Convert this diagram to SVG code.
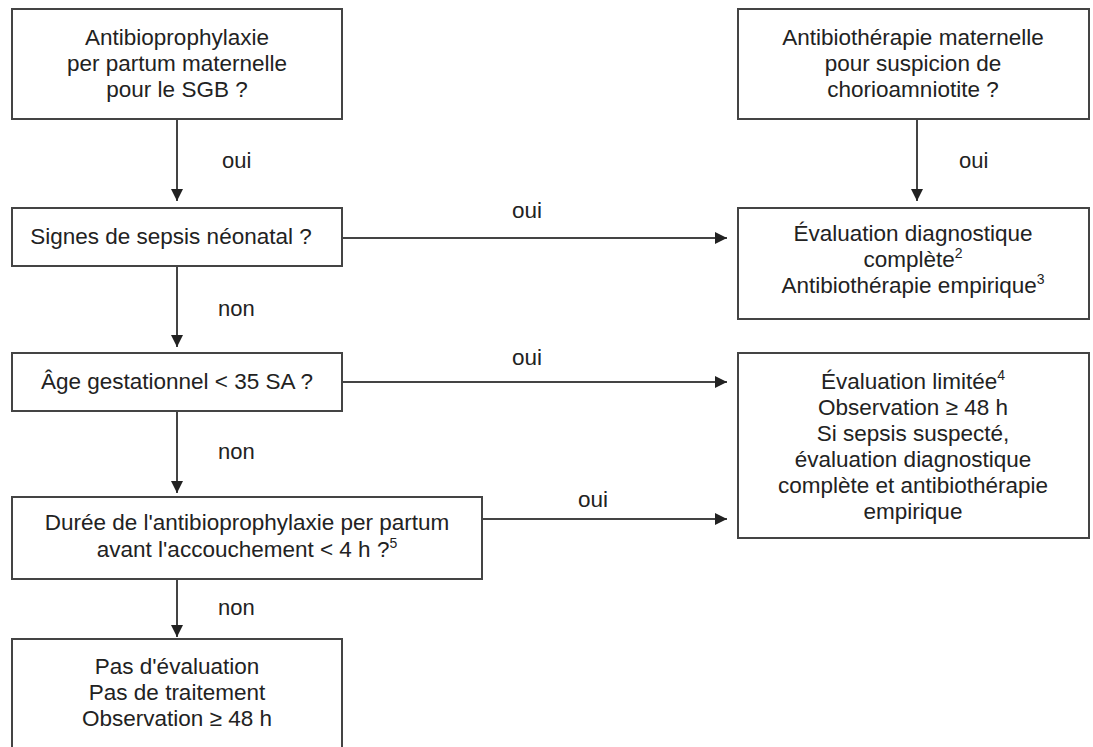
<svg xmlns="http://www.w3.org/2000/svg" width="1093" height="747" viewBox="0 0 1093 747">
<style>
.box{fill:#fff;stroke:#444;stroke-width:2}
.t{font-family:"Liberation Sans",Arial,sans-serif;font-size:22.5px;fill:#222;text-anchor:middle}
.l{font-family:"Liberation Sans",Arial,sans-serif;font-size:22px;fill:#222}
.sup{font-size:14px}
.c{stroke:#444;stroke-width:2;fill:none;marker-end:url(#ah)}
</style>
<defs>
<marker id="ah" viewBox="0 0 12 12" refX="12" refY="6" markerWidth="12" markerHeight="12" markerUnits="userSpaceOnUse" orient="auto">
<path d="M0,0 L12,6 L0,12 z" fill="#222"/>
</marker>
</defs>
<rect width="1093" height="747" fill="#fff"/>

<g id="connectors">
<line class="c" x1="177" y1="119" x2="177" y2="201"/>
<line class="c" x1="177" y1="266" x2="177" y2="347"/>
<line class="c" x1="177" y1="411" x2="177" y2="493"/>
<line class="c" x1="177" y1="579" x2="177" y2="637"/>
<line class="c" x1="917" y1="119" x2="917" y2="201"/>
<line class="c" x1="342" y1="238" x2="727" y2="238"/>
<line class="c" x1="342" y1="382" x2="727" y2="382"/>
<line class="c" x1="482" y1="519" x2="727" y2="519"/>
<text class="l" x="222" y="168">oui</text>
<text class="l" x="959" y="168">oui</text>
<text class="l" x="218" y="316">non</text>
<text class="l" x="218" y="459">non</text>
<text class="l" x="218" y="615">non</text>
<text class="t" x="527" y="218">oui</text>
<text class="t" x="527" y="365">oui</text>
<text class="t" x="593" y="507">oui</text>
</g>

<g id="n1">
<rect class="box" x="12" y="9" width="330" height="110"/>
<text class="t" x="177" y="45">Antibioprophylaxie</text>
<text class="t" x="177" y="71">per partum maternelle</text>
<text class="t" x="177" y="97">pour le SGB ?</text>
</g>

<g id="n2">
<rect class="box" x="12" y="208" width="330" height="58"/>
<text class="t" x="171" y="244">Signes de sepsis néonatal ?</text>
</g>

<g id="n3">
<rect class="box" x="12" y="353" width="330" height="58"/>
<text class="t" x="177" y="389">Âge gestationnel &lt; 35 SA ?</text>
</g>

<g id="n4">
<rect class="box" x="12" y="497" width="470" height="82"/>
<text class="t" x="247" y="530">Durée de l'antibioprophylaxie per partum</text>
<text class="t" x="247" y="557">avant l'accouchement &lt; 4 h ?<tspan class="sup" dy="-9">5</tspan></text>
</g>

<g id="n5">
<rect class="box" x="12" y="639" width="330" height="130"/>
<text class="t" x="177" y="674">Pas d'évaluation</text>
<text class="t" x="177" y="700">Pas de traitement</text>
<text class="t" x="177" y="726">Observation ≥ 48 h</text>
</g>

<g id="n6">
<rect class="box" x="738" y="9" width="351" height="110"/>
<text class="t" x="913" y="45">Antibiothérapie maternelle</text>
<text class="t" x="913" y="71">pour suspicion de</text>
<text class="t" x="913" y="97">chorioamniotite ?</text>
</g>

<g id="n7">
<rect class="box" x="738" y="208" width="351" height="111"/>
<text class="t" x="913" y="241">Évaluation diagnostique</text>
<text class="t" x="913" y="267">complète<tspan class="sup" dy="-9">2</tspan></text>
<text class="t" x="913" y="293">Antibiothérapie empirique<tspan class="sup" dy="-9">3</tspan></text>
</g>

<g id="n8">
<rect class="box" x="738" y="353" width="351" height="185"/>
<text class="t" x="913" y="389">Évaluation limitée<tspan class="sup" dy="-9">4</tspan></text>
<text class="t" x="913" y="415">Observation ≥ 48 h</text>
<text class="t" x="913" y="441">Si sepsis suspecté,</text>
<text class="t" x="913" y="467">évaluation diagnostique</text>
<text class="t" x="913" y="493">complète et antibiothérapie</text>
<text class="t" x="913" y="519">empirique</text>
</g>
</svg>
